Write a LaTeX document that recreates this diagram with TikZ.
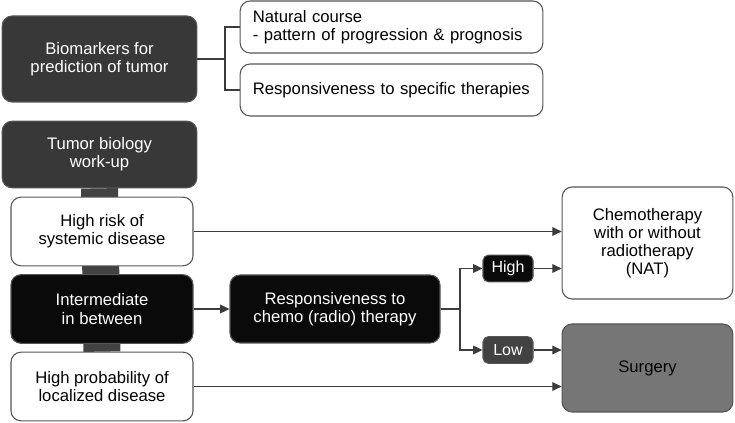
\documentclass[tikz,border=0pt]{standalone}
\usepackage{fontspec}
\setmainfont{Liberation Sans}
\usetikzlibrary{arrows.meta,backgrounds}

\definecolor{boxdark}{RGB}{56,56,56}
\definecolor{boxblack}{RGB}{10,10,10}
\definecolor{bargray}{RGB}{66,66,66}
\definecolor{surggray}{RGB}{118,118,118}
\definecolor{edgegray}{RGB}{85,85,85}
\definecolor{linegray}{RGB}{60,60,60}

\begin{document}
\begin{tikzpicture}[
  x=0.75pt, y=-0.75pt,
  every node/.style={font=\fontsize{12.5}{13.6}\selectfont, align=center, inner sep=2pt},
  box/.style={draw=edgegray, line width=0.8pt, rounded corners=7.5pt},
  darkbox/.style={box, fill=boxdark, text=white, minimum width=146pt},
  blackbox/.style={box, fill=boxblack, text=white},
  whitebox/.style={box, fill=white, text=black},
  infobox/.style={whitebox, minimum width=227pt, minimum height=39pt, text width=208pt, align=left},
  levelbox/.style={box, minimum width=136.5pt, minimum height=51.5pt},
  tagbox/.style={box, rounded corners=4pt, text=white, minimum width=37.5pt, minimum height=20pt, font=\fontsize{12}{13}\selectfont},
  link/.style={draw=linegray, line width=1pt},
  arrow/.style={link, -{Triangle[length=7pt,width=6.5pt]}}
]
\useasboundingbox (0,0) rectangle (735,423);

% biomarkers
\node[darkbox, minimum height=64.5pt] (bio) at (99.5,59) {Biomarkers for\\prediction of tumor};
\node[infobox] (natcourse) at (391.5,27) {Natural course\\- pattern of progression \& prognosis};
\node[infobox] (resptherapy) at (391.5,90) {Responsiveness to specific therapies};
\coordinate (fork) at (225,59);
\draw[link] (bio.east) -- (fork);
\draw[link] (natcourse.west) -| (fork) |- (resptherapy.west);

% work-up
\node[darkbox, minimum height=50pt] (work) at (99.5,154.5) {Tumor biology\\work-up};
\node[levelbox, whitebox] (hirisk) at (102,231.5) {High risk of\\systemic disease};
\node[levelbox, blackbox] (inter) at (102,309) {Intermediate\\in between};
\node[levelbox, whitebox] (hiprob) at (102,386.5) {High probability of\\localized disease};
\begin{scope}[on background layer]
  \draw[bargray, line width=27.75pt] (work.south) -- (hiprob.north);
\end{scope}

% responsiveness
\node[blackbox, minimum width=157.5pt, minimum height=51pt] (respchemo) at (335,309) {Responsiveness to\\chemo (radio) therapy};
\node[tagbox, fill=boxblack] (high) at (508,268.5) {High};
\node[tagbox, fill=bargray] (low) at (508,350) {Low};
\coordinate (split) at (460,309);
\draw[arrow] (inter) -- (respchemo);
\draw[link] (respchemo.east) -- (split);
\draw[arrow] (split) |- (high.west);
\draw[arrow] (split) |- (low.west);

% treatment
\node[whitebox, minimum width=128pt, minimum height=84pt] (chemo) at (647.5,243) {Chemotherapy\\with or without\\radiotherapy\\(NAT)};
\node[box, fill=surggray, text=black, minimum width=128pt, minimum height=66pt] (surgery) at (647.5,368) {Surgery};
\draw[arrow] (hirisk.east) -- (hirisk.east -| chemo.west);
\draw[arrow] (high.east) -- (high.east -| chemo.west);
\draw[arrow] (low.east) -- (low.east -| surgery.west);
\draw[arrow] (hiprob.east) -- (hiprob.east -| surgery.west);

\end{tikzpicture}
\end{document}
